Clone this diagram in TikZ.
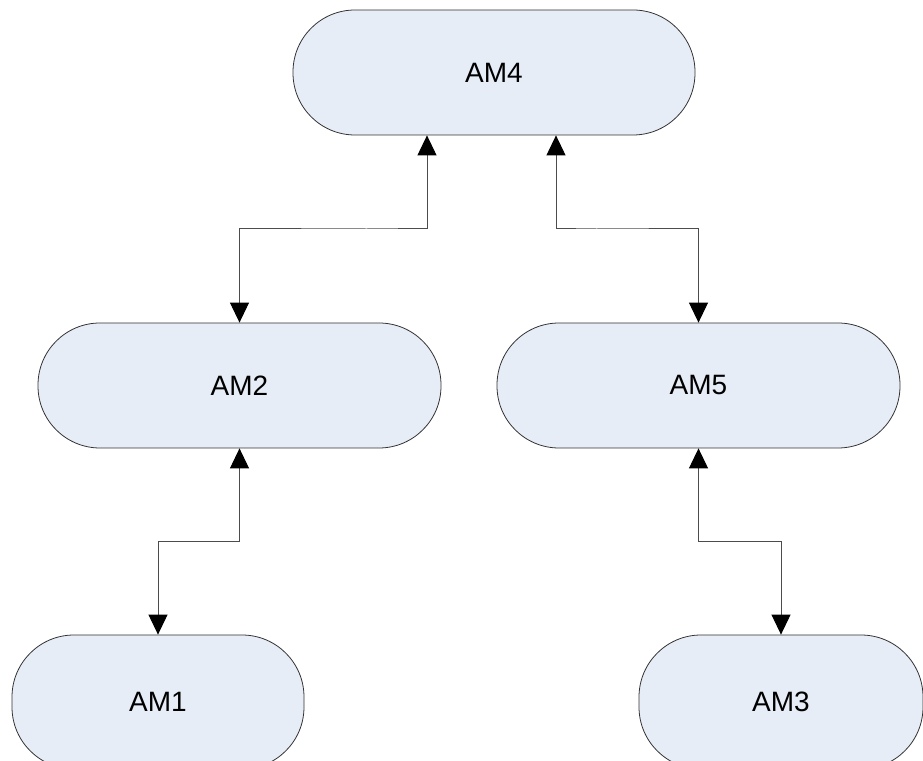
\documentclass[tikz,border=0pt]{standalone}
\usepackage{fontspec}
\setmainfont{Liberation Sans}
\usepackage{xcolor}
\usetikzlibrary{calc}
\usetikzlibrary{arrows.meta}
\definecolor{amfill}{RGB}{231,237,247}

\begin{document}
\begin{tikzpicture}[x=1pt,y=1pt,
        am/.style={draw=black!80,fill=amfill,line width=0.8pt,rounded corners=62pt,
            minimum height=125pt,inner sep=0pt,font=\fontsize{28}{34}\selectfont},
        link/.style={draw=black!70,line width=1pt,
            {Triangle[length=20pt,width=19pt,color=black]}-{Triangle[length=20pt,width=19pt,color=black]}}]
        \useasboundingbox (0,0) rectangle (923,760);
        \clip (0,0) rectangle (923,760);
        \fill[white] (0,0) rectangle (923,760);
        \node[am,minimum width=402pt] (am4) at (494,687.5) {AM4};
        \node[am,minimum width=403pt] (am2) at (239.5,374.5) {AM2};
        \node[am,minimum width=403pt] (am5) at (698.5,374.5) {AM5};
        \node[am,minimum width=292pt,minimum height=134pt] (am1) at (158,58) {AM1};
        \node[am,minimum width=284pt,minimum height=134pt] (am3) at (781,58) {AM3};
        \draw[link] ([xshift=-67pt]am4.south) |- ($(am4.south)!0.5!(am2.north)$) -| (am2.north);
        \draw[link] ([xshift=62pt]am4.south) |- ($(am4.south)!0.5!(am5.north)$) -| (am5.north);
        \draw[link] (am2.south) |- ($(am2.south)!0.5!(am1.north)$) -| (am1.north);
        \draw[link] (am5.south) |- ($(am5.south)!0.5!(am3.north)$) -| (am3.north);
    \end{tikzpicture}
\end{document}
